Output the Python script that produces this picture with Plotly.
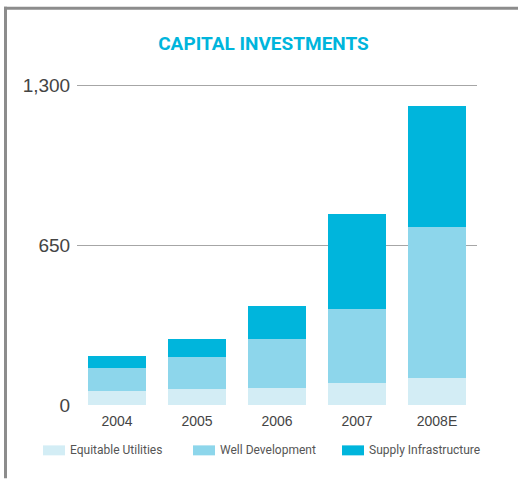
import plotly.graph_objects as go

years = ["2004", "2005", "2006", "2007", "2008E"]
equitable_utilities = [57, 65, 69, 89, 110]
well_development = [93, 130, 199, 300, 616]
supply_infrastructure = [48, 73, 134, 390, 491]
series_names = ["Equitable Utilities", "Well Development", "Supply Infrastructure"]
series_colors = ["#d3edf5", "#8dd6eb", "#00b5dc"]
y_ticks = [0, 650, 1300]
y_tick_text = ["0", "650", "1,300"]
y_max = 1310

fig = go.Figure()
for name, vals, col in zip(series_names,
                           [equitable_utilities, well_development, supply_infrastructure],
                           series_colors):
    fig.add_trace(go.Bar(x=years, y=vals, name=name, marker=dict(color=col, line=dict(width=0)),
                         showlegend=False))

W, H = 518, 479
L, R, B = 77, 477, 405.5
T = B - 320.5 * y_max / 1300

def px_x(x):
    return (x - L) / (R - L)

def px_y(y):
    return (B - y) / (B - T)

shapes = []
frame_col = "#8c8c8c"
shapes.append(dict(type="line", xref="paper", yref="paper", x0=px_x(4), x1=px_x(518),
                   y0=px_y(7.5), y1=px_y(7.5), line=dict(color=frame_col, width=3)))
shapes.append(dict(type="line", xref="paper", yref="paper", x0=px_x(5.5), x1=px_x(5.5),
                   y0=px_y(6), y1=px_y(479), line=dict(color=frame_col, width=3)))

narrow = "Roboto, Liberation Sans, sans-serif"
annotations = []
sw_x = [43, 193, 342]
for name, col, sx in zip(series_names, series_colors, sw_x):
    shapes.append(dict(type="rect", xref="paper", yref="paper", x0=px_x(sx), x1=px_x(sx + 22),
                       y0=px_y(456), y1=px_y(446), fillcolor=col, line=dict(width=0)))
    annotations.append(dict(text=name, xref="paper", yref="paper", x=px_x(sx + 25), y=px_y(451),
                            xanchor="left", yanchor="middle", showarrow=False,
                            font=dict(family=narrow, size=12, color="#555555")))

fig.update_layout(
    width=W, height=H,
    barmode="stack", bargap=0.28,
    plot_bgcolor="white", paper_bgcolor="white",
    margin=dict(l=L, r=W - R, t=T, b=H - B, pad=0),
    title=dict(text="<b>CAPITAL INVESTMENTS</b>", x=263.5 / W, xanchor="center",
               y=1 - 43 / H, yanchor="middle", xref="container", yref="container",
               font=dict(family=narrow, size=19, color="#00b5dc")),
    xaxis=dict(showgrid=False, showline=False, zeroline=False,
               ticks="outside", ticklen=3, tickcolor="rgba(0,0,0,0)",
               tickfont=dict(family="Liberation Sans, Arial, sans-serif", size=14, color="#444444")),
    yaxis=dict(range=[0, y_max], tickvals=y_ticks, ticktext=y_tick_text,
               showgrid=True, gridcolor="#a6a6a6", gridwidth=1,
               zeroline=True, zerolinecolor="white", showline=False,
               ticks="outside", ticklen=2, tickcolor="rgba(0,0,0,0)",
               tickfont=dict(family="Liberation Sans, Arial, sans-serif", size=19, color="#444444")),
    shapes=shapes, annotations=annotations,
)

fig.write_html("out.html", config={"displayModeBar": False},
               post_script="document.body.style.margin='0';document.body.style.overflow='hidden';")
